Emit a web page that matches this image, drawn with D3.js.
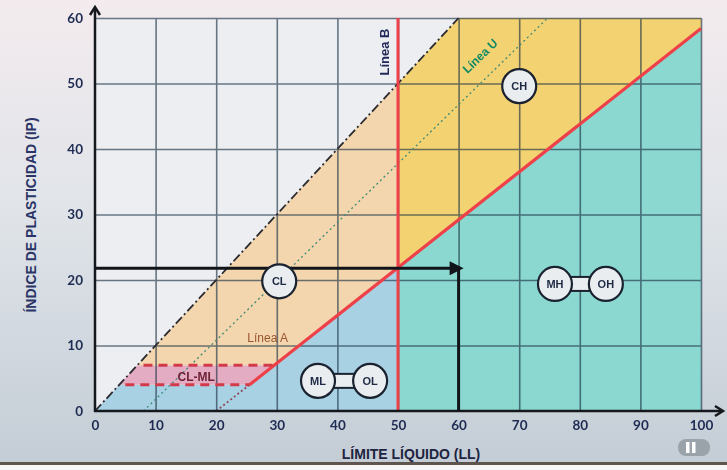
<!DOCTYPE html>
<html>
<head>
<meta charset="utf-8">
<script src="https://cdn.jsdelivr.net/npm/d3@7"></script>
<style>
  body { margin: 0; }
  svg { display: block; font-family: "Liberation Sans", Arial, sans-serif; }
</style>
</head>
<body>
<svg id="chart"></svg>
<script>
// Ticks
var xTicks = [0, 10, 20, 30, 40, 50, 60, 70, 80, 90, 100];
var yTicks = [0, 10, 20, 30, 40, 50, 60];

// Reference lines (LL, IP)
var lineA = [[20, 0], [25.5, 4], [100, 58.4]];
var lineU = [[8, 0], [74.7, 60]];
var lineMax = [[0, 0], [60, 60]];
var lineB = [[50, 0], [50, 60]];
var bandLow = [[5, 4], [25.5, 4]];
var bandHigh = [[8, 7], [30, 7]];

// Zones
var zoneCL = [[7, 7], [50, 50], [50, 21.9], [29.6, 7]];
var zoneCLML = [[4, 4], [7, 7], [29.6, 7], [25.5, 4]];
var zoneMLOL = [[0, 0], [4, 4], [25.5, 4], [50, 21.9], [50, 0]];
var zoneCH = [[50, 21.9], [50, 50], [60, 60], [100, 60], [100, 58.4]];
var zoneMHOH = [[50, 0], [50, 21.9], [100, 58.4], [100, 0]];

// Example reading
var sample = [[0, 21.8], [60, 21.8], [60, 0]];

// Soil group names
var groups = ["CH", "CL", "ML", "OL", "MH", "OH"];
var groupAt = [[70, 49.6], [30.4, 19.8], [36.8, 4.6], [45.4, 4.6], [75.9, 19.4], [84.3, 19.4]];

var W = 727, H = 470;
var svg = d3.select("#chart").attr("width", W).attr("height", H);

// Background, photo-like
var defs = svg.append("defs");
var grad = defs.append("linearGradient").attr("id", "bg").attr("x1", 0).attr("y1", 0).attr("x2", 0).attr("y2", 1);
grad.append("stop").attr("offset", "0%").attr("stop-color", "#f3ebee");
grad.append("stop").attr("offset", "45%").attr("stop-color", "#e0e4e9");
grad.append("stop").attr("offset", "100%").attr("stop-color", "#c3ccd5");
svg.append("rect").attr("width", W).attr("height", H).attr("fill", "url(#bg)");
svg.append("rect").attr("y", 462).attr("width", W).attr("height", 3).attr("fill", "#5e564e");
svg.append("rect").attr("y", 465).attr("width", W).attr("height", 5).attr("fill", "#f7f7f7");

// Scales
var x = d3.scaleLinear().domain([0, 100]).range([95, 701]);
var y = d3.scaleLinear().domain([0, 60]).range([411, 18]);

var path = d3.line().x(function (d) { return x(d[0]); }).y(function (d) { return y(d[1]); });
var poly = function (pts) { return path(pts) + "Z"; };

// Plot background
svg.append("rect")
  .attr("x", x(0)).attr("y", y(60))
  .attr("width", x(100) - x(0)).attr("height", y(0) - y(60))
  .attr("fill", "#eceef1");

// Zone fills
var zones = [[zoneMLOL, "#a9d1e4"], [zoneCLML, "#e4acc2"], [zoneCL, "#f3d6ad"], [zoneCH, "#f3d272"], [zoneMHOH, "#8bd8d0"]];
svg.selectAll(".zone")
  .data(zones)
  .enter()
  .append("path")
  .attr("class", "zone")
  .attr("d", function (d) { return poly(d[0]); })
  .attr("fill", function (d) { return d[1]; });

// Grid
var grid = svg.append("g").attr("opacity", 0.65);
grid.append("g")
  .attr("transform", "translate(0," + y(0) + ")")
  .call(d3.axisBottom(x).tickValues(xTicks.slice(1)).tickSize(-(y(0) - y(60))).tickFormat(""))
  .call(function (g) { g.select(".domain").remove(); })
  .selectAll("line").attr("stroke", "#1f3447").attr("stroke-width", 1.6);
grid.append("g")
  .attr("transform", "translate(" + x(0) + ",0)")
  .call(d3.axisLeft(y).tickValues(yTicks.slice(1)).tickSize(-(x(100) - x(0))).tickFormat(""))
  .call(function (g) { g.select(".domain").remove(); })
  .selectAll("line").attr("stroke", "#1f3447").attr("stroke-width", 1.6);

// Lines
svg.append("path").attr("d", path(lineU)).attr("fill", "none")
  .attr("stroke", "#3f8a78").attr("stroke-width", 1.3).attr("stroke-dasharray", "2,3");
svg.append("path").attr("d", path(lineMax)).attr("fill", "none")
  .attr("stroke", "#2a2a30").attr("stroke-width", 1.8).attr("stroke-dasharray", "9,3,2,3");
svg.append("path").attr("d", path(lineA.slice(0, 2))).attr("fill", "none")
  .attr("stroke", "#8a4a5a").attr("stroke-width", 1.8).attr("stroke-dasharray", "2,2.5");
svg.append("path").attr("d", path(lineA.slice(1))).attr("fill", "none")
  .attr("stroke", "#ee4048").attr("stroke-width", 3.2);
svg.append("path").attr("d", path(lineB)).attr("fill", "none")
  .attr("stroke", "#ee4048").attr("stroke-width", 3);
[bandLow, bandHigh].forEach(function (b) {
  svg.append("path").attr("d", path(b)).attr("fill", "none")
    .attr("stroke", "#d23a4a").attr("stroke-width", 3).attr("stroke-dasharray", "9,6");
});

// Axes with arrows
var ax = svg.append("g").attr("stroke", "#15181c").attr("stroke-width", 2.5).attr("fill", "none");
ax.append("line").attr("x1", x(0)).attr("y1", y(0) + 1).attr("x2", x(0)).attr("y2", 8);
ax.append("path").attr("d", "M" + (x(0) - 5) + ",15L" + x(0) + ",7L" + (x(0) + 5) + ",15");
ax.append("line").attr("x1", x(0) - 1).attr("y1", y(0)).attr("x2", 722).attr("y2", y(0));
ax.append("path").attr("d", "M715," + (y(0) - 5) + "L723," + y(0) + "L715," + (y(0) + 5));

// Sample reading arrow
svg.append("path").attr("d", path(sample)).attr("fill", "none")
  .attr("stroke", "#111418").attr("stroke-width", 3);
svg.append("path")
  .attr("d", "M" + (x(60) - 9) + "," + (y(21.8) - 7) + "L" + (x(60) + 5) + "," + y(21.8) + "L" + (x(60) - 9) + "," + (y(21.8) + 7) + "Z")
  .attr("fill", "#111418");

// Tick labels
svg.append("g")
  .attr("transform", "translate(0," + y(0) + ")")
  .call(d3.axisBottom(x).tickValues(xTicks).tickSize(0).tickPadding(9))
  .call(function (g) { g.select(".domain").remove(); })
  .selectAll("text").attr("font-size", 13.5).attr("font-weight", "bold").attr("fill", "#1e2b52")
  .attr("font-family", "Lato, sans-serif");
svg.append("g")
  .attr("transform", "translate(" + x(0) + ",0)")
  .call(d3.axisLeft(y).tickValues(yTicks).tickSize(0).tickPadding(12))
  .call(function (g) { g.select(".domain").remove(); })
  .selectAll("text").attr("font-size", 13.5).attr("font-weight", "bold").attr("fill", "#1e2b52")
  .attr("font-family", "Lato, sans-serif");

// Axis titles
svg.append("text")
  .attr("transform", "translate(36,215) rotate(-90)")
  .attr("text-anchor", "middle").attr("font-size", 14).attr("font-weight", "bold").attr("fill", "#2a3466")
  .text("ÍNDICE DE PLASTICIDAD (IP)");
svg.append("text")
  .attr("x", 411).attr("y", 459)
  .attr("text-anchor", "middle").attr("font-size", 14).attr("font-weight", "bold").attr("fill", "#1d2340")
  .text("LÍMITE LÍQUIDO (LL)");

// Line names
svg.append("text")
  .attr("transform", "translate(" + (x(50) - 9) + "," + y(54.8) + ") rotate(-90)")
  .attr("text-anchor", "middle").attr("font-size", 13).attr("font-weight", "bold").attr("fill", "#23285a")
  .text("Línea B");
svg.append("text")
  .attr("transform", "translate(483,59) rotate(-44)")
  .attr("text-anchor", "middle").attr("font-size", 12).attr("font-weight", "bold").attr("fill", "#0f8a66")
  .text("Línea U");
svg.append("text")
  .attr("x", x(28.5)).attr("y", y(10.5))
  .attr("text-anchor", "middle").attr("font-size", 12).attr("fill", "#9a5530")
  .text("Línea A");
svg.append("text")
  .attr("x", x(16.7)).attr("y", y(4.6))
  .attr("text-anchor", "middle").attr("font-size", 12).attr("font-weight", "bold").attr("fill", "#6e2236")
  .text("CL-ML");

// Group badges: connectors for paired groups
[[2, 3], [4, 5]].forEach(function (p) {
  var a = groupAt[p[0]], b = groupAt[p[1]];
  svg.append("rect")
    .attr("x", x(a[0]) + 10).attr("y", y(a[1]) - 7)
    .attr("width", x(b[0]) - x(a[0]) - 20).attr("height", 14)
    .attr("fill", "#e9edf0").attr("stroke", "#1a2230").attr("stroke-width", 2);
});
var badge = svg.selectAll(".badge")
  .data(groups)
  .enter()
  .append("g")
  .attr("class", "badge")
  .attr("transform", function (d, i) { return "translate(" + x(groupAt[i][0]) + "," + y(groupAt[i][1]) + ")"; });
badge.append("circle").attr("r", 17).attr("fill", "#e9edf0").attr("stroke", "#1a2230").attr("stroke-width", 2.2);
badge.append("text")
  .attr("text-anchor", "middle").attr("dy", "0.36em")
  .attr("font-size", 11).attr("font-weight", "bold").attr("fill", "#1e2a44")
  .text(function (d) { return d; });

// Video pause button (photo artefact)
svg.append("rect").attr("x", 678).attr("y", 439).attr("width", 32).attr("height", 17).attr("rx", 8).attr("fill", "#9aa2aa");
svg.append("rect").attr("x", 686).attr("y", 442).attr("width", 3.5).attr("height", 11).attr("fill", "#ffffff");
svg.append("rect").attr("x", 692).attr("y", 442).attr("width", 3.5).attr("height", 11).attr("fill", "#ffffff");
</script>
</body>
</html>
